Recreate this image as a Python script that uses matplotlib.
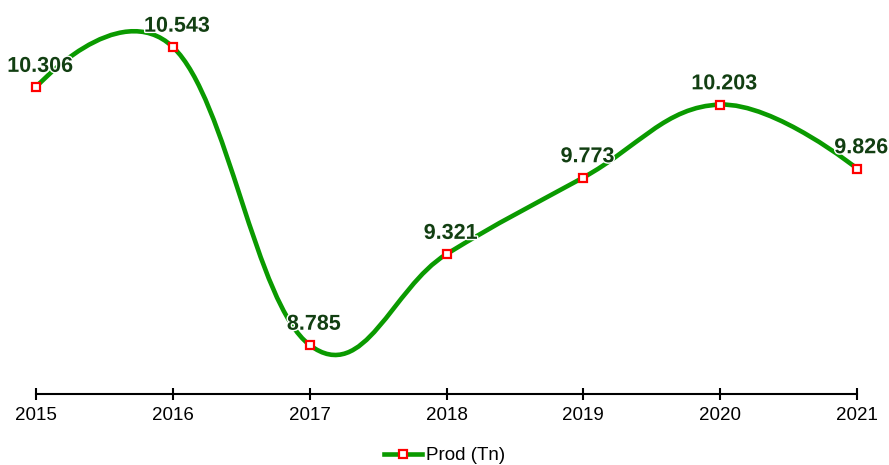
import matplotlib
matplotlib.use("Agg")
import matplotlib.pyplot as plt
import matplotlib.patheffects as pe
from matplotlib.path import Path
from matplotlib.patches import PathPatch
from matplotlib.lines import Line2D

plt.rcParams['font.family'] = ['Liberation Sans', 'DejaVu Sans']

years = [2015, 2016, 2017, 2018, 2019, 2020, 2021]
prod = [10.306, 10.543, 8.785, 9.321, 9.773, 10.203, 9.826]
labels = ["10.306", "10.543", "8.785", "9.321", "9.773", "10.203", "9.826"]

line_col = "#0a9a00"
label_col = "#123f12"


def spline_path(xs, ys, smoothing=1.5):
    # bezier controls like a charting lib's "spline" series
    denom = smoothing + 1
    n = len(xs)
    lc = [None] * n
    rc = [None] * n
    for i in range(1, n - 1):
        lx = (smoothing * xs[i] + xs[i - 1]) / denom
        ly = (smoothing * ys[i] + ys[i - 1]) / denom
        rx = (smoothing * xs[i] + xs[i + 1]) / denom
        ry = (smoothing * ys[i] + ys[i + 1]) / denom
        corr = (ry - ly) * (rx - xs[i]) / (rx - lx) + ys[i] - ry
        lc[i] = (lx, ly + corr)
        rc[i] = (rx, ry + corr)
    verts = [(xs[0], ys[0])]
    codes = [Path.MOVETO]
    for i in range(1, n):
        c1 = rc[i - 1] if rc[i - 1] else (xs[i - 1], ys[i - 1])
        c2 = lc[i] if lc[i] else (xs[i], ys[i])
        verts += [c1, c2, (xs[i], ys[i])]
        codes += [Path.CURVE4] * 3
    return Path(verts, codes)


fig = plt.figure(figsize=(8.89, 4.65), dpi=100)
ax = fig.add_axes([36 / 889, 71 / 465, 821 / 889, 394 / 465])

ax.add_patch(PathPatch(spline_path(years, prod), fill=False, edgecolor=line_col,
                       lw=3.3, capstyle='round', joinstyle='round', zorder=2, clip_on=False))
ax.plot(years, prod, linestyle='none', marker='s', markersize=6, markerfacecolor='white',
        markeredgecolor='#ff0000', markeredgewidth=1.6, zorder=3, clip_on=False)

for x, y, t in zip(years, prod, labels):
    ax.annotate(t, (x, y), xytext=(3, 11), textcoords='offset points', ha='center', va='baseline',
                fontsize=15.5, fontweight='bold', color=label_col, zorder=4,
                path_effects=[pe.withStroke(linewidth=2, foreground='white')])

ax.set_xlim(2015, 2021)
ax.set_ylim(8.496, 10.82)
ax.set_xticks(years)
ax.set_xticklabels([str(y) for y in years])
ax.set_yticks([])
for s in ['top', 'right', 'left']:
    ax.spines[s].set_visible(False)
ax.spines['bottom'].set_linewidth(1.5)
ax.tick_params(axis='x', direction='inout', length=9, width=1.5, pad=5, labelsize=13.5, colors='black')

handle = Line2D([], [], color=line_col, lw=3.3, marker='s', markersize=6, markerfacecolor='white',
                markeredgecolor='#ff0000', markeredgewidth=1.6)
fig.legend([handle], ['Prod (Tn)'], loc='lower center', bbox_to_anchor=(0.5, -0.035), frameon=False,
           fontsize=13.5, handlelength=2.0, handletextpad=0.2)

fig.savefig("out.png", dpi=100)
